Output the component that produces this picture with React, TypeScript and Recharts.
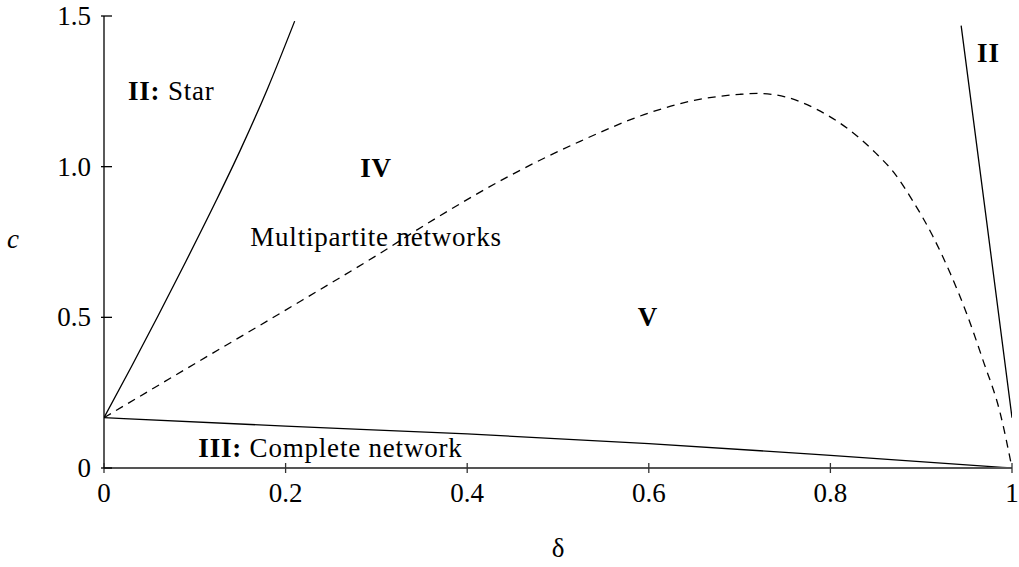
import React from 'react';
import { LineChart, Line, XAxis, YAxis, ReferenceDot } from 'recharts';

// ---- data (δ on x, c on y) ----
const STAR_DELTA = [0, 0.03, 0.06, 0.09, 0.124, 0.15, 0.18, 0.21];
const STAR_C = [0.167, 0.335, 0.5075, 0.6845, 0.89, 1.054, 1.258, 1.483];

const DASH_DELTA = [0, 0.1, 0.2, 0.3, 0.364, 0.45, 0.525, 0.6, 0.65, 0.7, 0.72, 0.75, 0.785, 0.82, 0.85, 0.87, 0.89, 0.913, 0.932, 0.95, 0.968, 0.987, 1.0];
const DASH_C = [0.167, 0.346, 0.524, 0.705, 0.826, 0.975, 1.085, 1.178, 1.22, 1.24, 1.243, 1.232, 1.19, 1.124, 1.045, 0.98, 0.89, 0.768, 0.646, 0.513, 0.358, 0.182, 0.0];

const COMPLETE_DELTA = [0, 0.2, 0.4, 0.6, 0.8, 1.0];
const COMPLETE_C = [0.167, 0.139, 0.113, 0.081, 0.042, 0.0];

const RIGHT_DELTA = [0.944, 0.972, 1.0];
const RIGHT_C = [1.468, 0.82, 0.167];

const X_TICKS = [0, 0.2, 0.4, 0.6, 0.8, 1];
const Y_TICKS = [0, 0.5, 1, 1.5];

const LABELS = [
  { d: 0.0264, c: 1.221, anchor: 'start', bold: 'II:', text: ' Star' },
  { d: 0.2996, c: 0.967, anchor: 'middle', bold: 'IV', text: '' },
  { d: 0.2996, c: 0.737, anchor: 'middle', bold: '', text: 'Multipartite networks' },
  { d: 0.599, c: 0.47, anchor: 'middle', bold: 'V', text: '' },
  { d: 0.1039, c: 0.0355, anchor: 'start', bold: 'III:', text: ' Complete network' },
  { d: 0.974, c: 1.348, anchor: 'middle', bold: 'II', text: '' },
];

const zip = (xs: number[], ys: number[]) => xs.map((d, i) => ({ d, c: ys[i] }));
const starData = zip(STAR_DELTA, STAR_C);
const dashData = zip(DASH_DELTA, DASH_C);
const completeData = zip(COMPLETE_DELTA, COMPLETE_C);
const rightData = zip(RIGHT_DELTA, RIGHT_C);

const FONT = "'Liberation Serif', 'Times New Roman', serif";
const FS = 27;

const fmtX = (v: number) => (v === 0 ? '0' : v === 1 ? '1' : v.toFixed(1));
const fmtY = (v: number) => (v === 0 ? '0' : v.toFixed(1));

const XTick = (props: any) => {
  const { x, y, payload } = props;
  return (
    <g>
      <line x1={x} x2={x} y1={y - 5} y2={y + 5} stroke="#333" strokeWidth={1.3} />
      <text x={x} y={y + 34} textAnchor="middle" fontFamily={FONT} fontSize={FS} fill="#000">
        {fmtX(payload.value)}
      </text>
    </g>
  );
};

const YTick = (props: any) => {
  const { x, y, payload } = props;
  return (
    <g>
      <line x1={x - 3} x2={x + 8} y1={y} y2={y} stroke="#000" strokeWidth={1.3} />
      <text x={x - 13} y={y + 9} textAnchor="end" fontFamily={FONT} fontSize={FS} fill="#000">
        {fmtY(payload.value)}
      </text>
    </g>
  );
};

const makeLabelShape = (l: any) => (props: any) => {
  const { cx, cy } = props;
  return (
    <text
      x={cx}
      y={cy}
      textAnchor={l.anchor}
      fontFamily={FONT}
      fontSize={FS}
      fill="#000"
      letterSpacing={0.8}
    >
      {l.bold ? <tspan fontWeight="bold">{l.bold}</tspan> : null}
      {l.text ? <tspan>{l.text}</tspan> : null}
    </text>
  );
};

export default function App() {
  return (
    <div style={{ position: 'absolute', left: 0, top: 0, width: 1019, height: 567 }}>
      <LineChart
        width={1019}
        height={567}
        margin={{ top: 16, right: 7, bottom: 39, left: 8 }}
      >
        <XAxis
          dataKey="d"
          type="number"
          domain={[0, 1]}
          ticks={X_TICKS}
          interval={0}
          tickSize={0}
          tickMargin={0}
          tickLine={false}
          height={60}
          axisLine={{ stroke: '#555', strokeWidth: 1.8 }}
          tick={<XTick />}
          allowDataOverflow
          label={{
            content: (p: any) => {
              const vb = p.viewBox || {};
              return (
                <text
                  x={vb.x + vb.width / 2}
                  y={vb.y + 89}
                  textAnchor="middle"
                  fontFamily={FONT}
                  fontSize={FS}
                  fill="#000"
                >
                  δ
                </text>
              );
            },
          }}
        />
        <YAxis
          dataKey="c"
          type="number"
          domain={[0, 1.5]}
          ticks={Y_TICKS}
          interval={0}
          width={96}
          tickSize={0}
          tickMargin={0}
          tickLine={false}
          axisLine={{ stroke: '#000', strokeWidth: 1.3 }}
          tick={<YTick />}
          allowDataOverflow
          label={{
            content: (p: any) => {
              const vb = p.viewBox || {};
              return (
                <text
                  x={13}
                  y={vb.y + vb.height / 2 + 6}
                  textAnchor="middle"
                  fontFamily={FONT}
                  fontSize={FS}
                  fontStyle="italic"
                  fill="#000"
                >
                  c
                </text>
              );
            },
          }}
        />
        <Line data={starData} dataKey="c" type="monotone" stroke="#000" strokeWidth={1.3} dot={false} isAnimationActive={false} />
        <Line data={dashData} dataKey="c" type="monotone" stroke="#000" strokeWidth={1.3} strokeDasharray="8 6" dot={false} isAnimationActive={false} />
        <Line data={completeData} dataKey="c" type="monotone" stroke="#000" strokeWidth={1.3} dot={false} isAnimationActive={false} />
        <Line data={rightData} dataKey="c" type="linear" stroke="#000" strokeWidth={1.3} dot={false} isAnimationActive={false} />
        {LABELS.map((l, i) => (
          <ReferenceDot key={i} x={l.d} y={l.c} r={0} shape={makeLabelShape(l)} ifOverflow="visible" />
        ))}
      </LineChart>
    </div>
  );
}
